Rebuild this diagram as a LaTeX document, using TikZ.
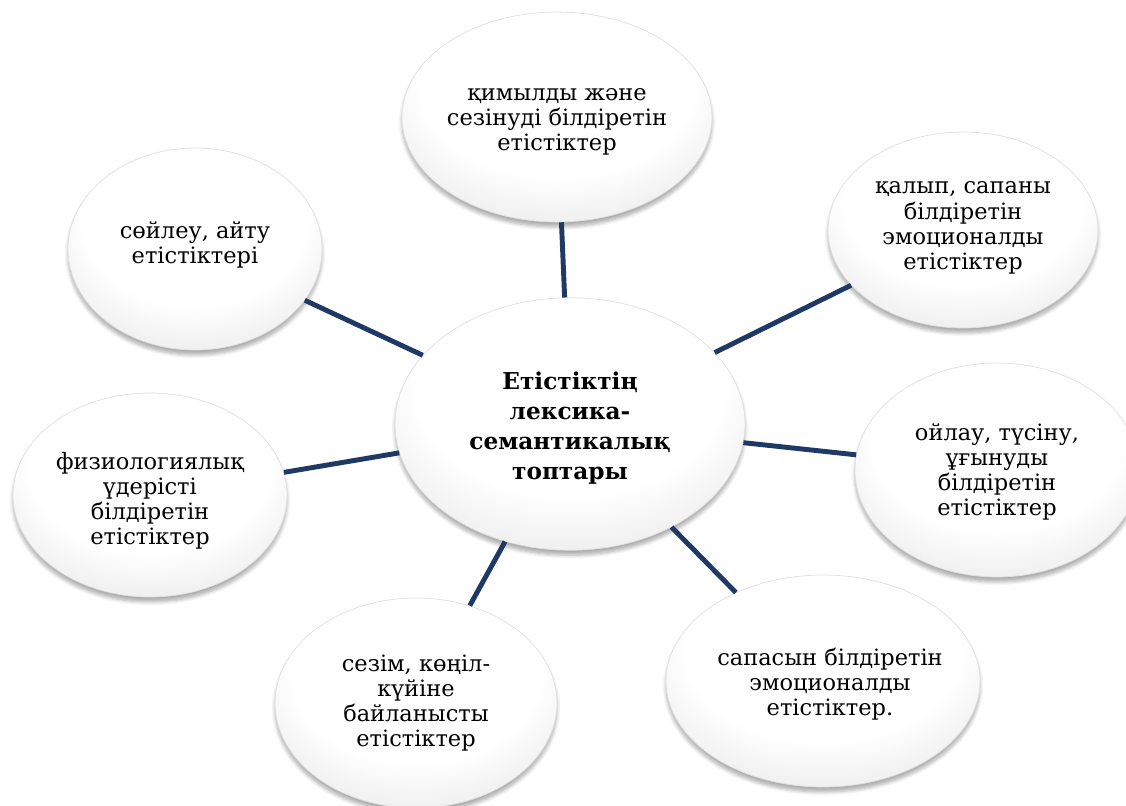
\documentclass[tikz,border=0pt]{standalone}
\usepackage{fontspec}
\setmainfont{DejaVu Serif}
\usetikzlibrary{shapes.geometric,shadows.blur}
\definecolor{linkblue}{RGB}{31,56,100}
\pgfdeclareradialshading{bevel}{\pgfpoint{0bp}{14bp}}
  {color(0bp)=(white); color(22bp)=(white); color(40bp)=(gray!25); color(50bp)=(gray!58)}

\tikzset{
  blob/.style={ellipse, inner sep=0pt, draw=gray!25, line width=0.4pt,
    shade, shading=bevel,
    blur shadow={shadow xshift=0pt, shadow yshift=-0.1cm,
      shadow blur steps=6, shadow opacity=32}},
  word/.style={align=center, inner sep=0pt, font=\fontsize{12.8}{14.3}\selectfont},
  link/.style={draw=linkblue, line width=2.8pt}
}

\begin{document}
\begin{tikzpicture}[x=0.02cm, y=-0.02cm]
\useasboundingbox (0,0) rectangle (1126,805);

% ellipses
\node[blob, minimum width=7cm, minimum height=5.05cm] (verb) at (570,424) {};
\node[blob, minimum width=6.2cm, minimum height=4.2cm] (move) at (557,117) {};
\node[blob, minimum width=5.08cm, minimum height=4.04cm] (speech) at (195,249) {};
\node[blob, minimum width=5.4cm, minimum height=3.92cm] (state) at (963,230) {};
\node[blob, minimum width=5.48cm, minimum height=4.08cm] (physio) at (150,495) {};
\node[blob, minimum width=5.68cm, minimum height=4.28cm] (think) at (997,470) {};
\node[blob, minimum width=5.64cm, minimum height=4.2cm] (feel) at (416,703) {};
\node[blob, minimum width=6.28cm, minimum height=4.24cm] (quality) at (823,681) {};

% texts
\node[word, font=\fontsize{13.2}{17}\selectfont\bfseries] (verbt) at (570,428)
  {Етістіктің\\лексика-\\семантикалық\\топтары};
\node[word] (movet) at (557,122) {қимылды және\\сезінуді білдіретін\\етістіктер};
\node[word] (speecht) at (195,245) {сөйлеу, айту\\етістіктері};
\node[word] (statet) at (963,228) {қалып, сапаны\\білдіретін\\эмоционалды\\етістіктер};
\node[word] (physiot) at (150,501) {физиологиялық\\үдерісті\\білдіретін\\етістіктер};
\node[word] (thinkt) at (997,472) {ойлау, түсіну,\\ұғынуды\\білдіретін\\етістіктер};
\node[word] (feelt) at (416,703) {сезім, көңіл-\\күйіне\\байланысты\\етістіктер};
\node[word] (qualityt) at (830,684) {сапасын білдіретін\\эмоционалды\\етістіктер.};

% links
\foreach \n in {move,state,think,quality,feel,physio,speech}
  \draw[link] (verb) -- (\n);
\end{tikzpicture}
\end{document}
